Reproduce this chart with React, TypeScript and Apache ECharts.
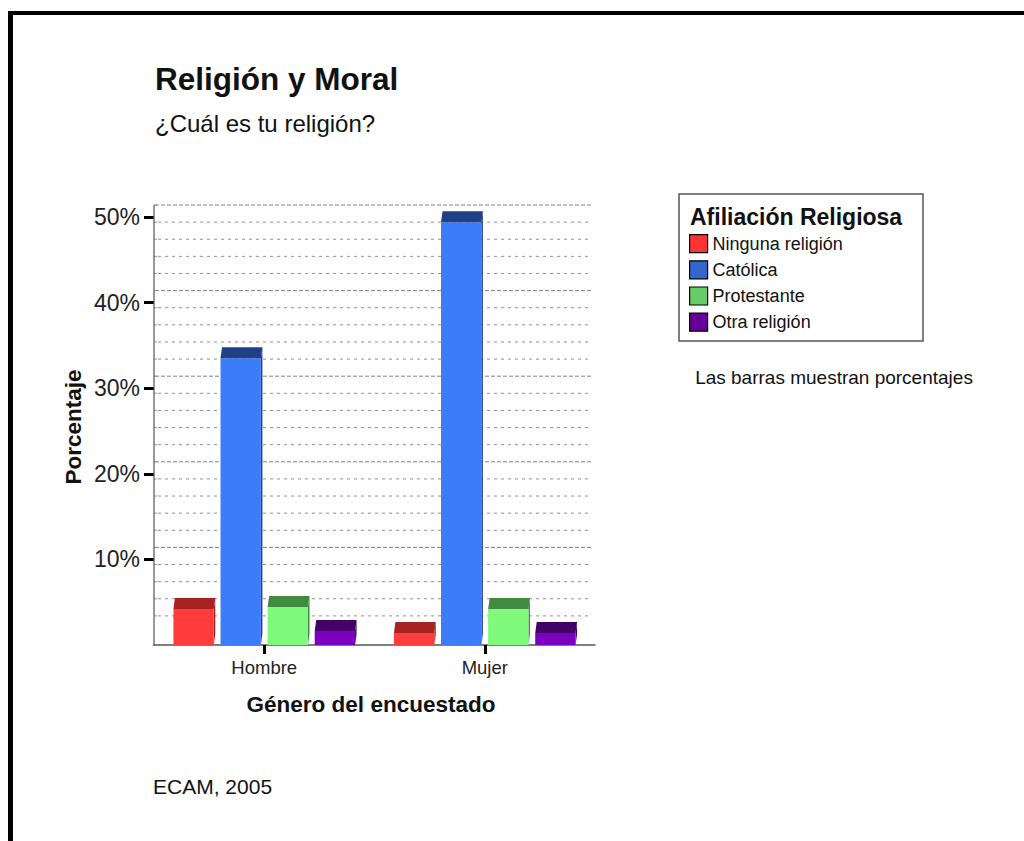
import React, { useEffect, useRef } from "react";
import * as echarts from "echarts";

const CATEGORIES = ["Hombre", "Mujer"];
const SERIES_NAMES = ["Ninguna religión", "Católica", "Protestante", "Otra religión"];
const NINGUNA = [4.2, 1.4];
const CATOLICA = [33.5, 49.4];
const PROTESTANTE = [4.45, 4.2];
const OTRA = [1.65, 1.4];
const SERIES_VALUES = [NINGUNA, CATOLICA, PROTESTANTE, OTRA];
const Y_TICKS_MAJOR = [10, 20, 30, 40, 50];
const Y_TICKS_MINOR = [2, 4, 6, 8, 10, 12, 14, 16, 18, 20, 22, 24, 26, 28, 30, 32, 34, 36, 38, 40, 42, 44, 46, 48, 50];

const FRONT = ["#ff3d3d", "#3d7cf8", "#7ef97b", "#7a00be"];
const TOPC = ["#a82222", "#1f3f86", "#428a40", "#430066"];
const LEGENDC = ["#ff3333", "#3366cc", "#66cc66", "#660099"];

const FONT = "'Liberation Sans', Arial, sans-serif";
const DEPTH_Y = 11;
const DEPTH_X = 1.5;
const WALL_Y = 12;

export default function App() {
  const ref = useRef<HTMLDivElement>(null);
  useEffect(() => {
    if (!ref.current) return;
    const chart = echarts.init(ref.current, null, { renderer: "svg" });

    const barSeries = SERIES_NAMES.map((name, sIdx) => ({
      type: "custom",
      name,
      z: 5,
      itemStyle: { color: LEGENDC[sIdx] },
      encode: { x: 0, y: 1 },
      data: SERIES_VALUES[sIdx].map((v, i) => [i, v]),
      renderItem: (params: any, api: any) => {
        const cat = api.value(0);
        const val = api.value(1);
        const base = api.coord([cat, 0]);
        const top = api.coord([cat, val]);
        const band = api.size([1, 0])[0];
        const barW = band * 0.183;
        const step = band * 0.2136;
        const groupW = step * 3 + barW;
        const x0 = base[0] - groupW / 2 + sIdx * step;
        const yT = top[1];
        const yB = base[1];
        return {
          type: "group",
          children: [
            {
              type: "polygon",
              shape: {
                points: [
                  [x0 + barW, yT],
                  [x0 + barW + DEPTH_X, yT - DEPTH_Y],
                  [x0 + barW + DEPTH_X, yB - DEPTH_Y],
                  [x0 + barW, yB],
                ],
              },
              style: { fill: TOPC[sIdx] },
            },
            {
              type: "rect",
              shape: { x: x0, y: yT, width: barW, height: yB - yT },
              style: { fill: FRONT[sIdx] },
            },
            {
              type: "polygon",
              shape: {
                points: [
                  [x0, yT],
                  [x0 + DEPTH_X, yT - DEPTH_Y],
                  [x0 + barW + DEPTH_X, yT - DEPTH_Y],
                  [x0 + barW, yT],
                ],
              },
              style: { fill: TOPC[sIdx] },
            },
          ],
        };
      },
    }));

    const gridSeries = {
      type: "custom",
      name: "grid",
      silent: true,
      z: 1,
      encode: { x: 0, y: 1 },
      data: Y_TICKS_MINOR.map((v) => [0, v]),
      renderItem: (params: any, api: any) => {
        const v = api.value(1);
        const cs = params.coordSys;
        const y = api.coord([0, v])[1] - WALL_Y;
        const major = v % 10 === 0;
        const children: any[] = [
          {
            type: "line",
            shape: { x1: cs.x + (major ? 1 : 4), y1: y, x2: cs.x + cs.width - 3, y2: y },
            style: {
              stroke: major ? "#808080" : "#909090",
              lineWidth: 1,
              lineDash: major ? [4, 2] : [3, 4],
            },
          },
          {
            type: "line",
            shape: { x1: cs.x, y1: y, x2: cs.x + 3, y2: y },
            style: { stroke: "#999", lineWidth: 1 },
          },
        ];
        if (v === 50) {
          const y0 = api.coord([0, 0])[1];
          children.push({
            type: "line",
            shape: { x1: cs.x, y1: y0 + 1, x2: cs.x, y2: y },
            style: { stroke: "#555", lineWidth: 1.2 },
          });
        }
        return { type: "group", children };
      },
    };

    chart.setOption({
      animation: false,
      backgroundColor: "#ffffff",
      textStyle: { fontFamily: FONT },
      grid: { left: 154, top: 217, width: 441, height: 428 },
      xAxis: {
        type: "category",
        data: CATEGORIES,
        axisLine: { show: true, lineStyle: { color: "#555", width: 1.5 } },
        axisTick: { show: true, alignWithLabel: true, length: 9, lineStyle: { color: "#000", width: 3 } },
        axisLabel: { fontSize: 18.5, color: "#222", margin: 13, fontFamily: FONT },
        splitLine: { show: false },
      },
      yAxis: {
        type: "value",
        min: 0,
        max: 50,
        interval: 10,
        axisLine: { show: false },
        axisTick: { show: true, length: 10, customValues: Y_TICKS_MAJOR, lineStyle: { color: "#000", width: 3 } },
        axisLabel: {
          fontSize: 23,
          color: "#222",
          margin: 14,
          fontFamily: FONT,
          customValues: Y_TICKS_MAJOR,
          formatter: (v: number) => (v === 0 ? "" : v + "%"),
        },
        splitLine: { show: false },
      },
      legend: {
        orient: "vertical",
        left: 689,
        top: 234,
        padding: 0,
        itemWidth: 18,
        itemHeight: 18,
        itemGap: 7,
        selectedMode: false,
        icon: "rect",
        textStyle: { fontSize: 18, color: "#111", fontFamily: FONT, padding: [0, 0, 0, 0] },
        itemStyle: { borderColor: "#000", borderWidth: 1.2 },
        data: SERIES_NAMES.map((n, i) => ({ name: n, itemStyle: { color: LEGENDC[i] } })),
      },
      graphic: [
        { type: "rect", shape: { x: 8, y: 11, width: 1016, height: 4 }, style: { fill: "#000" } },
        { type: "rect", shape: { x: 8, y: 11, width: 5, height: 830 }, style: { fill: "#000" } },
        {
          type: "text",
          x: 155,
          y: 78.5,
          style: { text: "Religión y Moral", font: `bold 31.5px ${FONT}`, fill: "#111", align: "left", verticalAlign: "middle" },
        },
        {
          type: "text",
          x: 155,
          y: 123.5,
          style: { text: "¿Cuál es tu religión?", font: `24px ${FONT}`, fill: "#111", align: "left", verticalAlign: "middle" },
        },
        {
          type: "text",
          x: 73.5,
          y: 427,
          rotation: Math.PI / 2,
          style: { text: "Porcentaje", font: `bold 22.5px ${FONT}`, fill: "#111", align: "center", verticalAlign: "middle" },
        },
        {
          type: "text",
          x: 371,
          y: 704.5,
          style: { text: "Género del encuestado", font: `bold 22.5px ${FONT}`, fill: "#111", align: "center", verticalAlign: "middle" },
        },
        {
          type: "rect",
          shape: { x: 679, y: 194, width: 244, height: 147 },
          style: { fill: "none", stroke: "#555", lineWidth: 1.5 },
        },
        {
          type: "text",
          x: 690,
          y: 217,
          style: { text: "Afiliación Religiosa", font: `bold 23px ${FONT}`, fill: "#111", align: "left", verticalAlign: "middle" },
        },
        {
          type: "text",
          x: 834,
          y: 377,
          style: { text: "Las barras muestran porcentajes", font: `19px ${FONT}`, fill: "#111", align: "center", verticalAlign: "middle" },
        },
        {
          type: "text",
          x: 153,
          y: 786,
          style: { text: "ECAM, 2005", font: `21px ${FONT}`, fill: "#111", align: "left", verticalAlign: "middle" },
        },
      ],
      series: [gridSeries, ...barSeries],
    });
    return () => chart.dispose();
  }, []);
  return <div ref={ref} style={{ position: "absolute", left: 0, top: 0, width: 1024, height: 841 }} />;
}
